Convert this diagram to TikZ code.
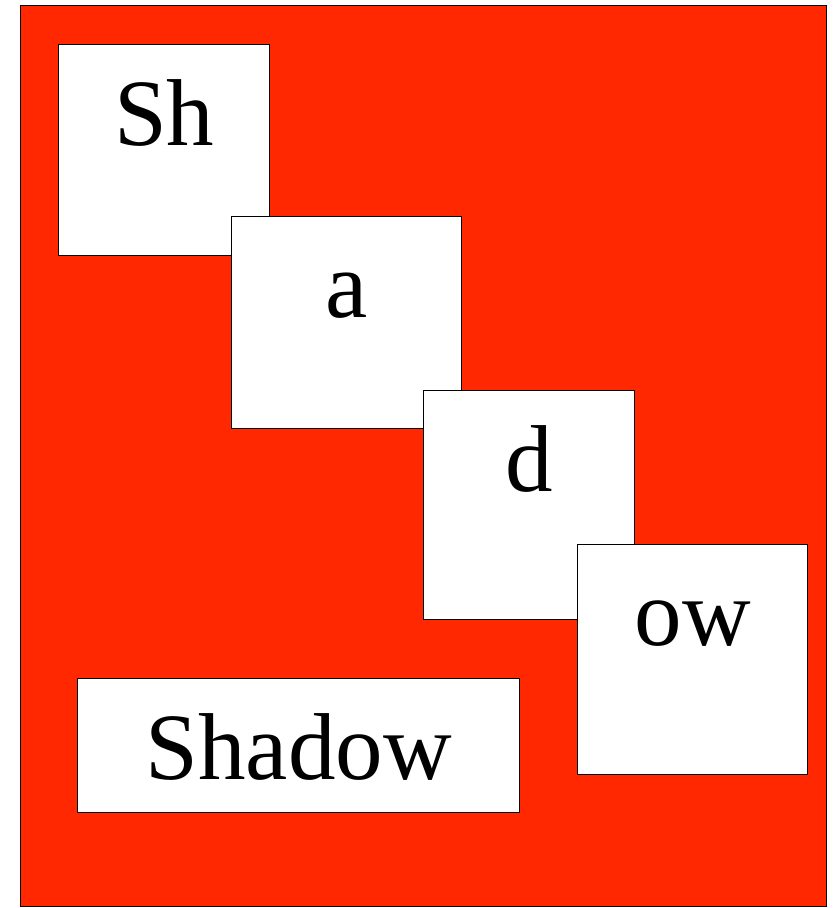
\documentclass[tikz,border=0pt]{standalone}
\usepackage{fontspec}
\setmainfont{Liberation Serif}
\definecolor{panelred}{RGB}{255,40,0}

\begin{document}
\begin{tikzpicture}[x=1pt, y=-1pt,
  panel/.style={draw, fill=panelred, line width=1.4pt, inner sep=0pt, anchor=north west},
  tile/.style={draw, fill=white, line width=1.4pt, inner sep=0pt, anchor=north west,
               align=center, font=\fontsize{95}{100}\selectfont, text height=101pt}
]
\useasboundingbox (0,0) rectangle (838,908);
\node[panel, minimum width=806pt, minimum height=901pt] (bg) at (20,5) {};

% the four letter tiles, each laid over the one before
\node[tile, text width=211pt, text depth=110pt] (sh) at (58,44) {Sh};
\node[tile, text width=230pt, text depth=111pt] (a) at (231,216) {a};
\node[tile, text width=211pt, text depth=128pt] (d) at (423,390) {d};
\node[tile, text width=230pt, text depth=129pt] (ow) at (577,544) {ow};

\node[tile, text width=442pt, text depth=33pt] (word) at (77,678) {Shadow};
\end{tikzpicture}
\end{document}
